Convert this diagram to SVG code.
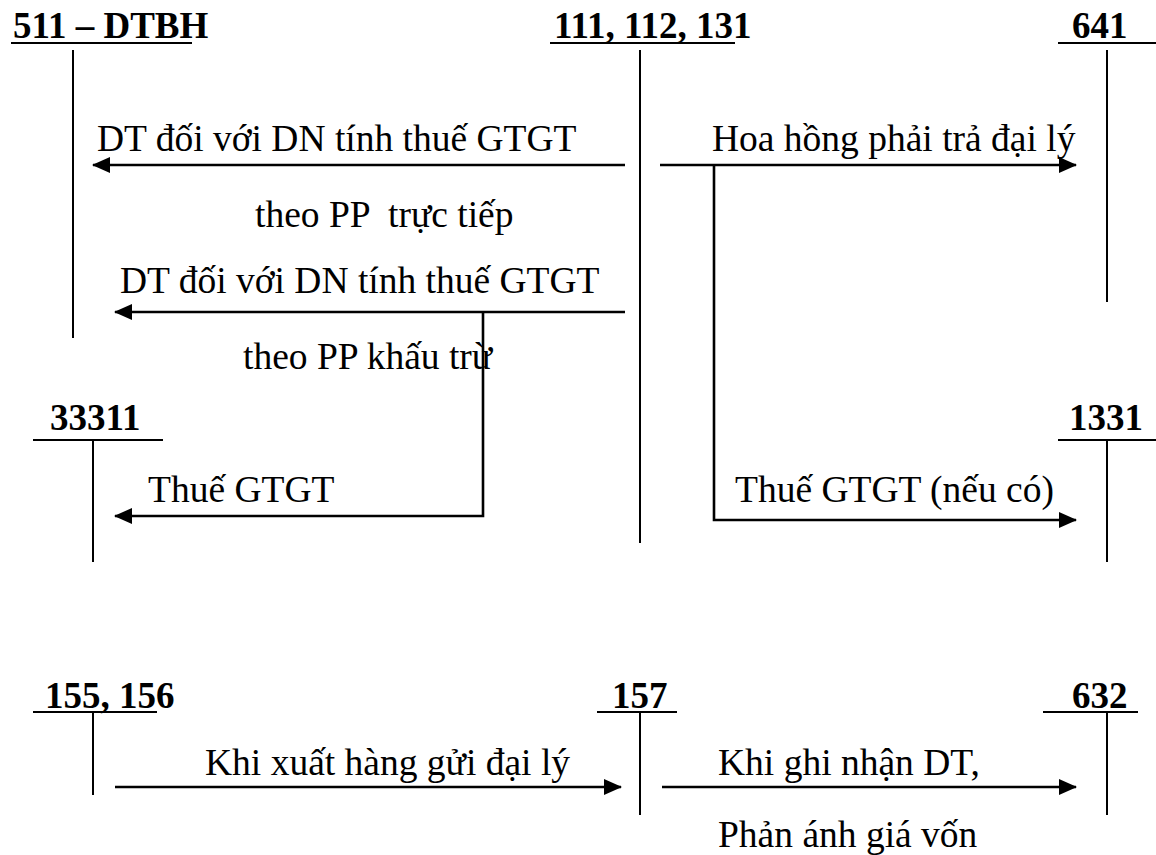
<svg xmlns="http://www.w3.org/2000/svg" width="1156" height="855" viewBox="0 0 1156 855">
  <style>
    text { font-family: 'Liberation Serif', 'Times New Roman', Times, 'DejaVu Serif', serif; font-size: 37.5px; fill: #000; }
    .hdr { font-weight: bold; font-size: 37px; }
    .rule { stroke: #000; stroke-width: 2.2; fill: none; }
    .axis { stroke: #000; stroke-width: 2; fill: none; }
    .flow { stroke: #000; stroke-width: 2.6; fill: none; }
    .arr { marker-end: url(#head); }
  </style>
  <defs>
    <marker id="head" markerUnits="userSpaceOnUse" markerWidth="18" markerHeight="16" refX="17" refY="8" orient="auto">
      <path d="M0,0 L18,8 L0,16 Z" fill="#000"/>
    </marker>
  </defs>
  <rect width="1156" height="855" fill="#fff"/>

  <!-- T-accounts -->
  <g id="acc-511">
    <text class="hdr" x="13" y="38">511 – DTBH</text>
    <line class="rule" x1="11" y1="43" x2="192" y2="43"/>
    <line class="axis" x1="73" y1="50" x2="73" y2="338"/>
  </g>
  <g id="acc-111">
    <text class="hdr" x="554" y="38">111, 112, 131</text>
    <line class="rule" x1="550" y1="43" x2="735" y2="43"/>
    <line class="axis" x1="640" y1="50" x2="640" y2="543"/>
  </g>
  <g id="acc-641">
    <text class="hdr" x="1072" y="38">641</text>
    <line class="rule" x1="1058" y1="43" x2="1156" y2="43"/>
    <line class="axis" x1="1107" y1="50" x2="1107" y2="302"/>
  </g>
  <g id="acc-33311">
    <text class="hdr" x="50" y="430">33311</text>
    <line class="rule" x1="33" y1="440" x2="163" y2="440"/>
    <line class="axis" x1="93" y1="440" x2="93" y2="562"/>
  </g>
  <g id="acc-1331">
    <text class="hdr" x="1069" y="430">1331</text>
    <line class="rule" x1="1058" y1="440" x2="1156" y2="440"/>
    <line class="axis" x1="1107" y1="440" x2="1107" y2="562"/>
  </g>
  <g id="acc-155">
    <text class="hdr" x="45" y="708">155, 156</text>
    <line class="rule" x1="33" y1="712" x2="157" y2="712"/>
    <line class="axis" x1="93" y1="712" x2="93" y2="795"/>
  </g>
  <g id="acc-157">
    <text class="hdr" x="612" y="708">157</text>
    <line class="rule" x1="597" y1="712" x2="677" y2="712"/>
    <line class="axis" x1="640" y1="712" x2="640" y2="815"/>
  </g>
  <g id="acc-632">
    <text class="hdr" x="1072" y="708">632</text>
    <line class="rule" x1="1043" y1="712" x2="1138" y2="712"/>
    <line class="axis" x1="1107" y1="712" x2="1107" y2="815"/>
  </g>

  <!-- entries -->
  <g id="connectors">
    <line class="flow arr" x1="625" y1="165" x2="93" y2="165"/>
    <line class="flow arr" x1="625" y1="312" x2="115" y2="312"/>
    <polyline class="flow arr" points="483,312 483,516 115,516"/>
    <line class="flow arr" x1="660" y1="165" x2="1076" y2="165"/>
    <polyline class="flow arr" points="714,165 714,520 1076,520"/>
    <line class="flow arr" x1="115" y1="787" x2="621" y2="787"/>
    <line class="flow arr" x1="662" y1="787" x2="1076" y2="787"/>
  </g>

  <g id="labels">
    <text x="97" y="151">DT đối với DN tính thuế GTGT</text>
    <text x="255" y="227" xml:space="preserve">theo PP  trực tiếp</text>
    <text x="120" y="293">DT đối với DN tính thuế GTGT</text>
    <text x="243" y="369">theo PP khấu trừ</text>
    <text x="148" y="502">Thuế GTGT</text>
    <text x="712" y="151">Hoa hồng phải trả đại lý</text>
    <text x="735" y="502">Thuế GTGT (nếu có)</text>
    <text x="205" y="775">Khi xuất hàng gửi đại lý</text>
    <text x="718" y="775">Khi ghi nhận DT,</text>
    <text x="718" y="847">Phản ánh giá vốn</text>
  </g>
</svg>
